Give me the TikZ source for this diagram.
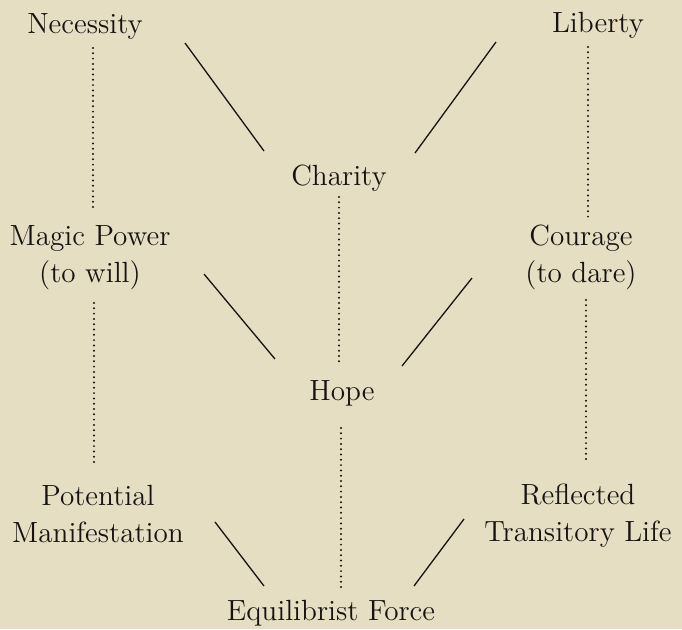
\documentclass[tikz,border=0pt]{standalone}
\usepackage{xcolor}
\definecolor{paper}{RGB}{229,222,195}
\definecolor{ink}{RGB}{22,19,16}

\begin{document}
\begin{tikzpicture}[x=0.5pt,y=-0.5pt,
  lbl/.style={inner sep=0pt,text=ink,font=\fontsize{14.6}{18.5}\selectfont,align=center,anchor=base},
  link/.style={draw=ink,line width=0.65pt},
  dotrule/.style={draw=ink,line width=1.1pt,line cap=round,dash pattern=on 0pt off 2.65pt}]
\fill[paper] (0,0) rectangle (682,629);
\useasboundingbox (0,0) rectangle (682,629);
\node[lbl] (nec) at (85,33) {Necessity};
\node[lbl] (lib) at (598,32) {Liberty};
\node[lbl] (cha) at (339,185) {Charity};
\node[lbl] (mag) at (90,282) {Magic Power\\(to will)};
\node[lbl] (cou) at (581,282) {Courage\\(to dare)};
\node[lbl] (hop) at (342,400) {Hope};
\node[lbl] (pot) at (98,542) {Potential\\Manifestation};
\node[lbl] (ref) at (578,541) {Reflected\\Transitory Life};
\node[lbl] (equ) at (331,620) {Equilibrist Force};
% ends of the strokes between the names
\coordinate (nc1) at (185,43);  \coordinate (nc2) at (264,151);
\coordinate (lc1) at (496,42);  \coordinate (lc2) at (415,153);
\coordinate (mh1) at (204,274); \coordinate (mh2) at (275,359);
\coordinate (ch1) at (472,278); \coordinate (ch2) at (402,366);
\coordinate (me1) at (215,522); \coordinate (me2) at (264,586);
\coordinate (te1) at (464,519); \coordinate (te2) at (414,586);
\coordinate (nm1) at (93,48);   \coordinate (nm2) at (93,208);
\coordinate (mp1) at (94,303);  \coordinate (mp2) at (94,463);
\coordinate (lo1) at (588,47);  \coordinate (lo2) at (588,218);
\coordinate (cr1) at (586,300); \coordinate (cr2) at (586,459);
\coordinate (hh1) at (339,197); \coordinate (hh2) at (339,362);
\coordinate (he1) at (341,428); \coordinate (he2) at (341,587);
\foreach \a/\b in {nc1/nc2,lc1/lc2,mh1/mh2,ch1/ch2,me1/me2,te1/te2} {\draw[link] (\a)--(\b);}
\foreach \a/\b in {nm1/nm2,mp1/mp2,lo1/lo2,cr1/cr2,hh1/hh2,he1/he2} {\draw[dotrule] (\a)--(\b);}
\end{tikzpicture}
\end{document}
